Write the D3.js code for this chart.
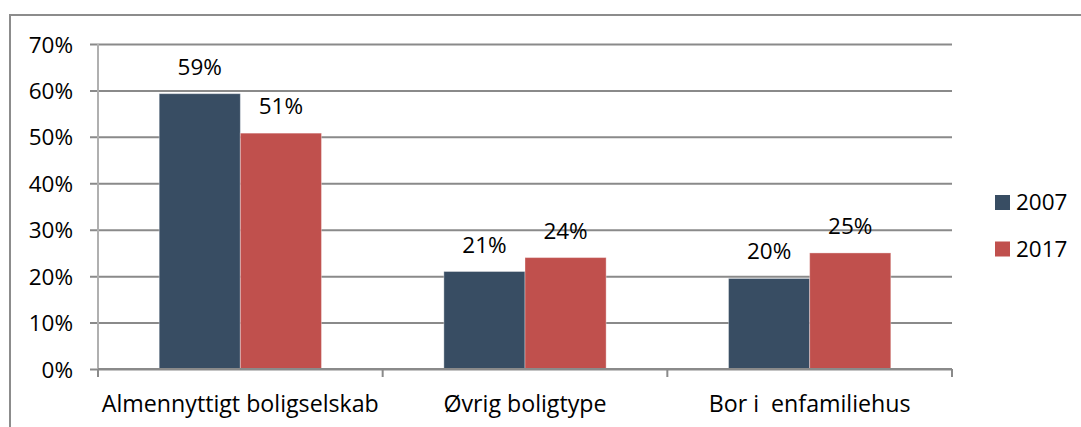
<!DOCTYPE html>
<html>
<head>
<meta charset="utf-8">
<script src="https://cdn.jsdelivr.net/npm/d3@7"></script>
<style>
  html, body { margin: 0; padding: 0; background: #fff; overflow: hidden; }
  svg text { font-family: "Open Sans", "Noto Sans", sans-serif; fill: #000; }
</style>
</head>
<body>
<div id="area"></div>
<script>
// chart data
const categories = ['Almennyttigt boligselskab', 'Øvrig boligtype', 'Bor i  enfamiliehus'];
const seriesNames = ['2007', '2017'];
const values2007 = [0.593, 0.210, 0.195];
const values2017 = [0.508, 0.240, 0.250];
const labels2007 = ['59%', '21%', '20%'];
const labels2017 = ['51%', '24%', '25%'];
const yTicks = [0, 0.1, 0.2, 0.3, 0.4, 0.5, 0.6, 0.7];

const colors = ['#384d63', '#c0504d'];
const width = 1081, height = 427;
const margin = { left: 98, right: 129, top: 44, bottom: 58 };

const svg = d3.select('#area').append('svg')
    .attr('width', width)
    .attr('height', height);

// outer frame (runs off the right and bottom edge)
svg.append('rect')
    .attr('x', 10).attr('y', 15)
    .attr('width', 1200).attr('height', 600)
    .attr('fill', 'none')
    .attr('stroke', '#8c8c8c')
    .attr('stroke-width', 2);

const x0 = d3.scaleBand()
    .domain(categories)
    .range([margin.left, width - margin.right])
    .paddingInner(0.43)
    .paddingOuter(0.215);

const x1 = d3.scaleBand()
    .domain(seriesNames)
    .range([0, x0.bandwidth()]);

const y = d3.scaleLinear()
    .domain([0, 0.7])
    .range([height - margin.bottom, margin.top]);

// y axis with gridlines
const yAxis = svg.append('g')
    .attr('transform', `translate(${margin.left},0)`)
    .call(d3.axisLeft(y)
        .tickValues(yTicks)
        .tickFormat(d3.format('.0%'))
        .tickSize(-(width - margin.left - margin.right))
        .tickPadding(25));
yAxis.select('.domain').remove();
yAxis.selectAll('.tick line')
    .attr('x1', -8)
    .attr('stroke', '#8a8a8a')
    .attr('stroke-width', 2);
yAxis.selectAll('.tick text')
    .attr('font-size', 22.5)
    .attr('dy', '0.36em');

// left axis line
svg.append('line')
    .attr('x1', margin.left).attr('x2', margin.left)
    .attr('y1', margin.top).attr('y2', y(0))
    .attr('stroke', '#b0b0b0')
    .attr('stroke-width', 2);

const rows = categories.map((c, i) => ({
    cat: c,
    vals: [
        { key: '2007', v: values2007[i], label: labels2007[i] },
        { key: '2017', v: values2017[i], label: labels2017[i] }
    ]
}));

const groups = svg.append('g').selectAll('g')
    .data(rows)
    .join('g')
    .attr('transform', d => `translate(${x0(d.cat)},0)`);

groups.selectAll('rect')
    .data(d => d.vals)
    .join('rect')
    .attr('x', d => x1(d.key))
    .attr('y', d => y(d.v))
    .attr('width', x1.bandwidth())
    .attr('height', d => y(0) - y(d.v))
    .attr('fill', (d, i) => colors[i])
    .attr('stroke', 'rgba(255,255,255,0.35)')
    .attr('stroke-width', 1);

groups.selectAll('text')
    .data(d => d.vals)
    .join('text')
    .attr('x', d => x1(d.key) + x1.bandwidth() / 2)
    .attr('y', d => y(d.v) - 19)
    .attr('text-anchor', 'middle')
    .attr('font-size', 22.5)
    .text(d => d.label);

// x axis
const xAxisLine = svg.append('g')
    .attr('transform', `translate(0,${y(0)})`);
xAxisLine.append('line')
    .attr('x1', margin.left).attr('x2', width - margin.right)
    .attr('stroke', '#8a8a8a')
    .attr('stroke-width', 2);
const xTickPos = [margin.left].concat(categories.map(c => x0(c) + x0.step() - x0.paddingInner() * x0.step() / 2));
xAxisLine.selectAll('.xt')
    .data(xTickPos)
    .join('line')
    .attr('class', 'xt')
    .attr('x1', d => d).attr('x2', d => d)
    .attr('y1', 0).attr('y2', 8)
    .attr('stroke', '#8a8a8a')
    .attr('stroke-width', 2);
xAxisLine.selectAll('text')
    .data(categories)
    .join('text')
    .attr('x', d => x0(d) + x0.bandwidth() / 2)
    .attr('y', 43)
    .attr('text-anchor', 'middle')
    .attr('font-size', 23.2)
    .style('white-space', 'pre')
    .text(d => d);

// legend
const legend = svg.append('g')
    .attr('transform', 'translate(995,195)');
const items = legend.selectAll('g')
    .data(seriesNames)
    .join('g')
    .attr('transform', (d, i) => `translate(0,${i * 46.5})`);
items.append('rect')
    .attr('width', 15).attr('height', 15)
    .attr('fill', (d, i) => colors[i]);
items.append('text')
    .attr('x', 21)
    .attr('y', 15)
    .attr('font-size', 22.5)
    .text(d => d);
</script>
</body>
</html>
